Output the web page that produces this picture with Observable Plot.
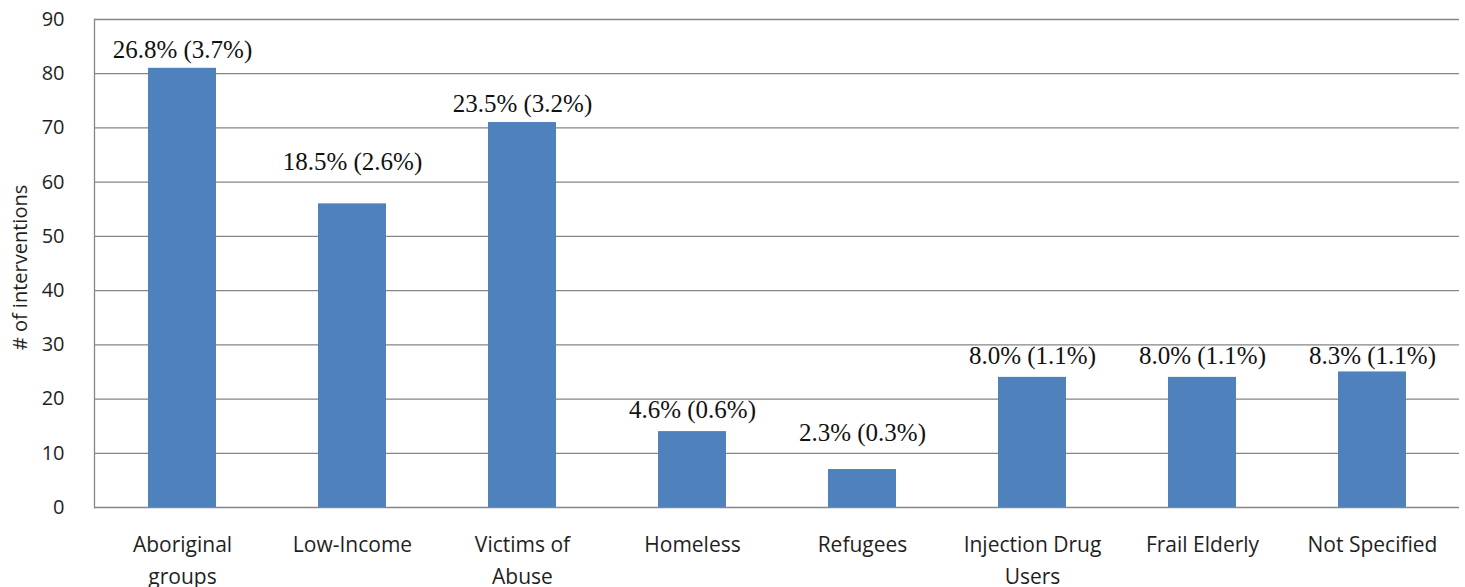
<!DOCTYPE html>
<html>
<head>
<meta charset="utf-8">
<script src="https://cdn.jsdelivr.net/npm/d3@7"></script>
<script src="https://cdn.jsdelivr.net/npm/@observablehq/plot@0.6"></script>
<style>
  html, body { margin: 0; padding: 0; background: #fff; }
  #chart svg { display: block; }
</style>
</head>
<body>
<div id="chart"></div>
<script>
const categories = ["Aboriginal\ngroups", "Low-Income", "Victims of\nAbuse", "Homeless", "Refugees", "Injection Drug\nUsers", "Frail Elderly", "Not Specified"];
const counts = [81, 56, 71, 14, 7, 24, 24, 25];
const pctLabels = ["26.8% (3.7%)", "18.5% (2.6%)", "23.5% (3.2%)", "4.6% (0.6%)", "2.3% (0.3%)", "8.0% (1.1%)", "8.0% (1.1%)", "8.3% (1.1%)"];
// where each percentage label sits, in y-axis units (as placed in the original)
const labelAt = [84.3, 63.7, 74.4, 17.9, 13.8, 27.9, 27.9, 27.9];
const yTicks = [0, 10, 20, 30, 40, 50, 60, 70, 80, 90];

const data = categories.map((c, i) => ({category: c, count: counts[i], label: pctLabels[i], labelY: labelAt[i]}));

const chart = Plot.plot({
  width: 1465,
  height: 587,
  marginLeft: 94,
  marginRight: 6,
  marginTop: 19,
  marginBottom: 80,
  style: {fontFamily: "'Open Sans', sans-serif", background: "#fff", overflow: "visible"},
  x: {domain: categories, paddingInner: 0.6, paddingOuter: 0.3, label: null},
  y: {domain: [0, 90], label: null},
  marks: [
    Plot.gridY(yTicks, {stroke: "#868686", strokeOpacity: 1, strokeWidth: 1.3}),
    Plot.frame({anchor: "left", stroke: "#868686", strokeWidth: 1.3}),
    Plot.barY(data, {x: "category", y: "count", fill: "#4f81bd"}),
    Plot.text(data, {x: "category", y: "labelY", text: "label", lineAnchor: "middle",
      fontFamily: "'Liberation Serif', 'Times New Roman', serif", fontSize: 25, fill: "#111"}),
    Plot.axisY({ticks: yTicks, tickSize: 0, tickPadding: 30, fontSize: 20, fill: "#1f1f1f", label: null}),
    Plot.axisX({tickSize: 0, tickPadding: 21, fontSize: 21, lineHeight: 1.55, fill: "#1f1f1f", label: null}),
    Plot.text(["# of interventions"], {frameAnchor: "left", textAnchor: "middle", dx: -74, dy: 4, rotate: -90, fontSize: 20, fill: "#1f1f1f"})
  ]
});
document.getElementById("chart").append(chart);
</script>
</body>
</html>
